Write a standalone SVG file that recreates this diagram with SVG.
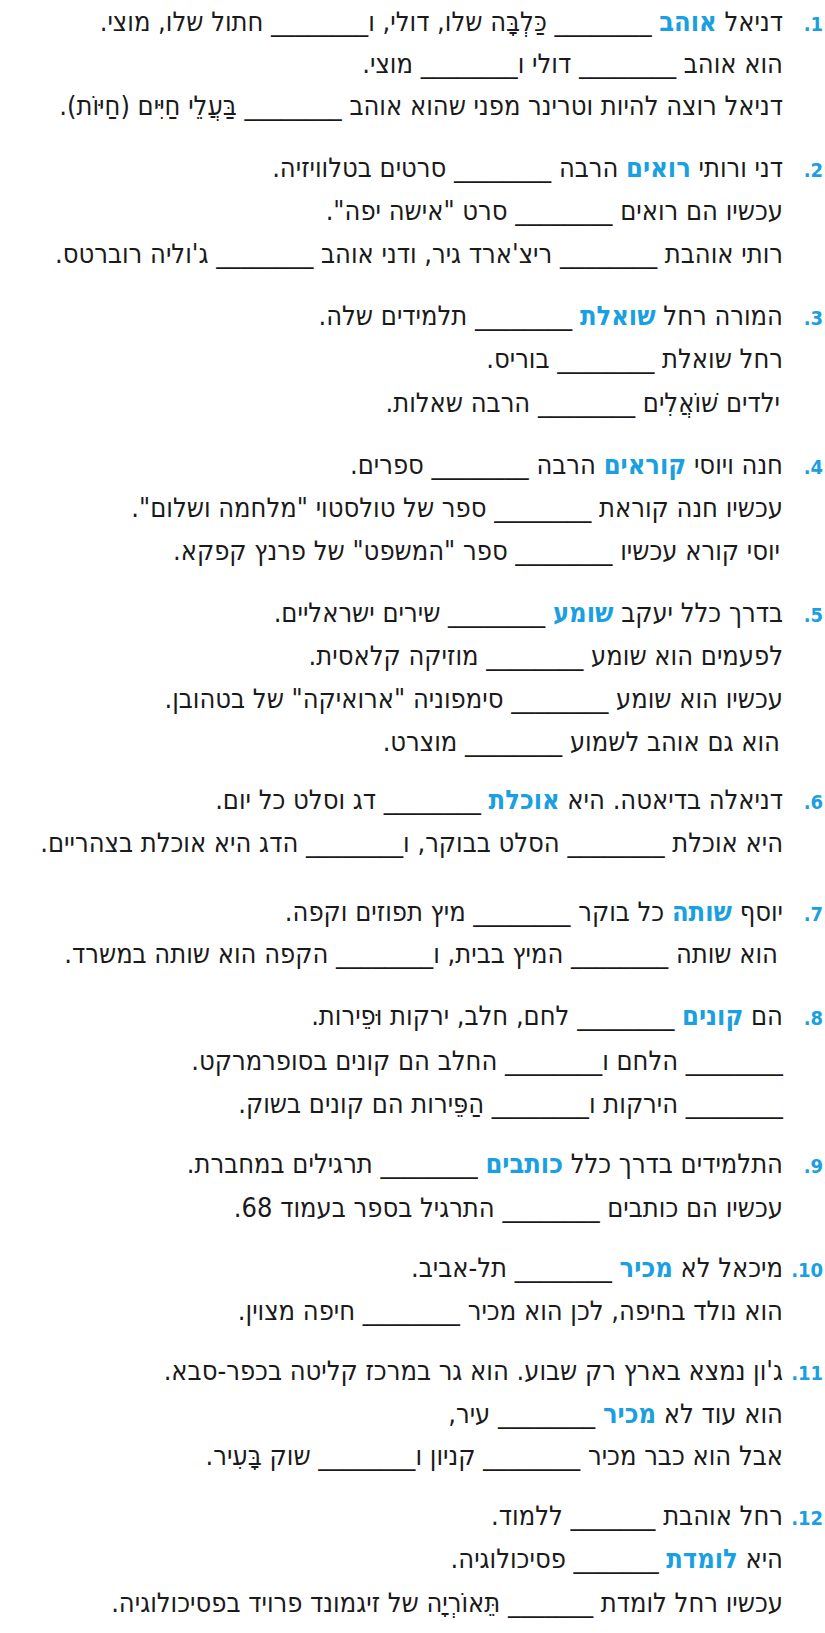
<svg xmlns="http://www.w3.org/2000/svg" width="825" height="1633" viewBox="0 0 825 1633">
<style>
text{font-family:"DejaVu Sans Condensed","DejaVu Sans","Noto Sans",sans-serif;font-size:27px;fill:#1a1a1a;direction:rtl;text-anchor:start;font-stretch:condensed}
.b{fill:#1aa0e0;font-weight:bold}
.n{fill:#1aa0e0;font-weight:bold;font-size:20px;direction:ltr;text-anchor:end}
</style>
<rect width="825" height="1633" fill="#fff"/>
<g id="q1"><text class="n" x="823" y="31">.1</text>
<text x="783" y="31">דניאל <tspan class="b">אוהב</tspan> ________ כַּלְבָּה שלו, דולי, ו________ חתול שלו, מוצי.</text>
<text x="783" y="73">הוא אוהב ________ דולי ו________ מוצי.</text>
<text x="783" y="115">דניאל רוצה להיות וטרינר מפני שהוא אוהב ________ בַּעֲלֵי חַיִּים (חַיּוֹת).</text></g>
<g id="q2"><text class="n" x="823" y="177">.2</text>
<text x="783" y="177">דני ורותי <tspan class="b">רואים</tspan> הרבה ________ סרטים בטלוויזיה.</text>
<text x="783" y="220">עכשיו הם רואים ________ סרט "אישה יפה".</text>
<text x="783" y="263">רותי אוהבת ________ ריצ'ארד גיר, ודני אוהב ________ ג'וליה רוברטס.</text></g>
<g id="q3"><text class="n" x="823" y="325">.3</text>
<text x="783" y="325">המורה רחל <tspan class="b">שואלת</tspan> ________ תלמידים שלה.</text>
<text x="783" y="368">רחל שואלת ________ בוריס.</text>
<text x="780" y="412">ילדים שׁוֹאֲלִים ________ הרבה שאלות.</text></g>
<g id="q4"><text class="n" x="823" y="474">.4</text>
<text x="783" y="474">חנה ויוסי <tspan class="b">קוראים</tspan> הרבה ________ ספרים.</text>
<text x="783" y="517">עכשיו חנה קוראת ________ ספר של טולסטוי "מלחמה ושלום".</text>
<text x="780" y="560">יוסי קורא עכשיו ________ ספר "המשפט" של פרנץ קפקא.</text></g>
<g id="q5"><text class="n" x="823" y="622">.5</text>
<text x="783" y="622">בדרך כלל יעקב <tspan class="b">שומע</tspan> ________ שירים ישראליים.</text>
<text x="783" y="665">לפעמים הוא שומע ________ מוזיקה קלאסית.</text>
<text x="783" y="708">עכשיו הוא שומע ________ סימפוניה "ארואיקה" של בטהובן.</text>
<text x="780" y="751">הוא גם אוהב לשמוע ________ מוצרט.</text></g>
<g id="q6"><text class="n" x="823" y="809">.6</text>
<text x="783" y="809">דניאלה בדיאטה. היא <tspan class="b">אוכלת</tspan> ________ דג וסלט כל יום.</text>
<text x="783" y="852">היא אוכלת ________ הסלט בבוקר, ו________ הדג היא אוכלת בצהריים.</text></g>
<g id="q7"><text class="n" x="823" y="921">.7</text>
<text x="783" y="921">יוסף <tspan class="b">שותה</tspan> כל בוקר ________ מיץ תפוזים וקפה.</text>
<text x="778" y="963">הוא שותה ________ המיץ בבית, ו________ הקפה הוא שותה במשרד.</text></g>
<g id="q8"><text class="n" x="823" y="1025">.8</text>
<text x="783" y="1025">הם <tspan class="b">קונים</tspan> ________ לחם, חלב, ירקות וּפֵירות.</text>
<text x="783" y="1070">________ הלחם ו________ החלב הם קונים בסופרמרקט.</text>
<text x="783" y="1113">________ הירקות ו________ הַפֵּירות הם קונים בשוק.</text></g>
<g id="q9"><text class="n" x="823" y="1173">.9</text>
<text x="783" y="1173">התלמידים בדרך כלל <tspan class="b">כותבים</tspan> ________ תרגילים במחברת.</text>
<text x="783" y="1217">עכשיו הם כותבים ________ התרגיל בספר בעמוד 68.</text></g>
<g id="q10"><text class="n" x="823" y="1277">.10</text>
<text x="783" y="1277">מיכאל לא <tspan class="b">מכיר</tspan> ________ תל-אביב.</text>
<text x="783" y="1320">הוא נולד בחיפה, לכן הוא מכיר ________ חיפה מצוין.</text></g>
<g id="q11"><text class="n" x="823" y="1380">.11</text>
<text x="783" y="1380">ג'ון נמצא בארץ רק שבוע. הוא גר במרכז קליטה בכפר-סבא.</text>
<text x="783" y="1423">הוא עוד לא <tspan class="b">מכיר</tspan> ________ עיר,</text>
<text x="783" y="1465">אבל הוא כבר מכיר ________ קניון ו________ שוק בָּעִיר.</text></g>
<g id="q12"><text class="n" x="823" y="1525">.12</text>
<text x="783" y="1525">רחל אוהבת _______ ללמוד.</text>
<text x="783" y="1568">היא <tspan class="b">לומדת</tspan> _______ פסיכולוגיה.</text>
<text x="783" y="1612">עכשיו רחל לומדת _______ תֵּאוֹרְיָה של זיגמונד פרויד בפסיכולוגיה.</text></g>
</svg>
